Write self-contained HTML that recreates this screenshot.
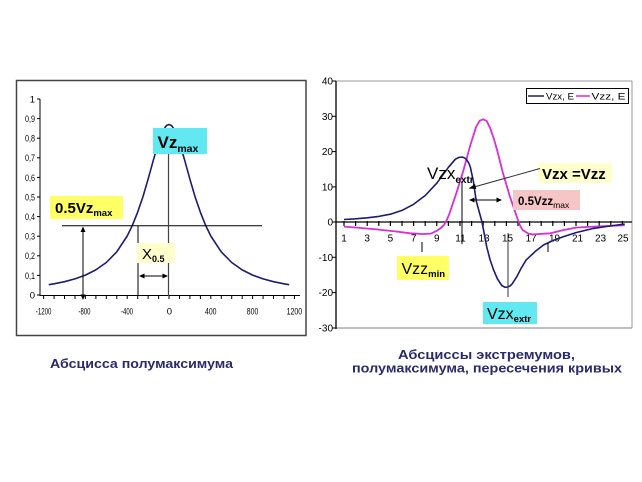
<!DOCTYPE html>
<html><head><meta charset="utf-8"><style>
html,body{margin:0;padding:0;background:#fff;}
svg{display:block;font-family:"Liberation Sans",Arial,sans-serif;}
</style></head><body>
<svg width="642" height="482" viewBox="0 0 642 482" xmlns="http://www.w3.org/2000/svg">
<rect width="642" height="482" fill="#fff"/>

<!-- ================= LEFT CHART ================= -->
<rect x="16.5" y="80.5" width="289.5" height="255" fill="none" stroke="#444" stroke-width="1.5"/>
<line x1="40" y1="99" x2="40" y2="296" stroke="#000" stroke-width="1"/>
<line x1="40" y1="295.5" x2="300" y2="295.5" stroke="#000" stroke-width="1"/>
<g stroke="#000" stroke-width="1">
<line x1="37" y1="99" x2="40" y2="99"/><line x1="37" y1="118.6" x2="40" y2="118.6"/>
<line x1="37" y1="138.2" x2="40" y2="138.2"/><line x1="37" y1="157.8" x2="40" y2="157.8"/>
<line x1="37" y1="177.4" x2="40" y2="177.4"/><line x1="37" y1="197" x2="40" y2="197"/>
<line x1="37" y1="216.6" x2="40" y2="216.6"/><line x1="37" y1="236.2" x2="40" y2="236.2"/>
<line x1="37" y1="255.8" x2="40" y2="255.8"/><line x1="37" y1="275.4" x2="40" y2="275.4"/>
<line x1="37" y1="295" x2="40" y2="295"/>
</g>
<g stroke="#000" stroke-width="1">
<line x1="43.6" y1="295" x2="43.6" y2="299"/><line x1="54.1" y1="295" x2="54.1" y2="299"/>
<line x1="64.5" y1="295" x2="64.5" y2="299"/><line x1="75" y1="295" x2="75" y2="299"/>
<line x1="85.4" y1="295" x2="85.4" y2="299"/><line x1="95.9" y1="295" x2="95.9" y2="299"/>
<line x1="106.3" y1="295" x2="106.3" y2="299"/><line x1="116.8" y1="295" x2="116.8" y2="299"/>
<line x1="127.2" y1="295" x2="127.2" y2="299"/><line x1="137.7" y1="295" x2="137.7" y2="299"/>
<line x1="148.1" y1="295" x2="148.1" y2="299"/><line x1="158.6" y1="295" x2="158.6" y2="299"/>
<line x1="169" y1="295" x2="169" y2="299"/><line x1="179.5" y1="295" x2="179.5" y2="299"/>
<line x1="189.9" y1="295" x2="189.9" y2="299"/><line x1="200.4" y1="295" x2="200.4" y2="299"/>
<line x1="210.8" y1="295" x2="210.8" y2="299"/><line x1="221.3" y1="295" x2="221.3" y2="299"/>
<line x1="231.7" y1="295" x2="231.7" y2="299"/><line x1="242.2" y1="295" x2="242.2" y2="299"/>
<line x1="252.6" y1="295" x2="252.6" y2="299"/><line x1="263.1" y1="295" x2="263.1" y2="299"/>
<line x1="273.5" y1="295" x2="273.5" y2="299"/><line x1="284" y1="295" x2="284" y2="299"/>
<line x1="294.4" y1="295" x2="294.4" y2="299"/>
</g>
<g font-size="9.5" fill="#000" text-anchor="end">
<text x="35" y="102.5">1</text>
<text x="35" y="122" textLength="10" lengthAdjust="spacingAndGlyphs">0,9</text>
<text x="35" y="141.6" textLength="10" lengthAdjust="spacingAndGlyphs">0,8</text>
<text x="35" y="161.2" textLength="10" lengthAdjust="spacingAndGlyphs">0,7</text>
<text x="35" y="180.8" textLength="10" lengthAdjust="spacingAndGlyphs">0,6</text>
<text x="35" y="200.4" textLength="10" lengthAdjust="spacingAndGlyphs">0,5</text>
<text x="35" y="220" textLength="10" lengthAdjust="spacingAndGlyphs">0,4</text>
<text x="35" y="239.6" textLength="10" lengthAdjust="spacingAndGlyphs">0,3</text>
<text x="35" y="259.2" textLength="10" lengthAdjust="spacingAndGlyphs">0,2</text>
<text x="35" y="278.8" textLength="10" lengthAdjust="spacingAndGlyphs">0,1</text>
<text x="35" y="298.4">0</text>
</g>
<g font-size="9.5" fill="#000">
<text x="35.8" y="314.5" textLength="15.6" lengthAdjust="spacingAndGlyphs">-1200</text>
<text x="78.5" y="314.5" textLength="12" lengthAdjust="spacingAndGlyphs">-800</text>
<text x="121" y="314.5" textLength="12" lengthAdjust="spacingAndGlyphs">-400</text>
<text x="166.8" y="314.5">0</text>
<text x="205" y="314.5" textLength="11.5" lengthAdjust="spacingAndGlyphs">400</text>
<text x="246.8" y="314.5" textLength="11.5" lengthAdjust="spacingAndGlyphs">800</text>
<text x="286.6" y="314.5" textLength="15.5" lengthAdjust="spacingAndGlyphs">1200</text>
</g>
<polyline fill="none" stroke="#1c1c70" stroke-width="1.6" stroke-linejoin="round"
points="48.8,284.7 54,283.8 64.5,281.7 74.9,278.9 85.4,275.1 95.8,269.9 106.3,262.5 116.7,251.9 127.2,236 132.4,225.3 137.6,212.3 142.9,196.9 148.1,179.2 153.3,160.3 158.5,142.5 163.8,129.4 166.5,125.5 169,124.5 171.5,125.5 174.2,129.4 179.5,142.5 184.7,160.3 189.9,179.2 195.1,196.9 200.4,212.3 205.6,225.3 210.8,236 221.3,251.9 231.7,262.5 242.2,269.9 252.6,275.1 263.1,278.9 273.5,281.7 284,283.8 289.2,284.7"/>
<line x1="62" y1="225.7" x2="262" y2="225.7" stroke="#000" stroke-width="1"/>
<line x1="168.5" y1="153" x2="168.5" y2="296" stroke="#444" stroke-width="1.2"/>
<line x1="138" y1="226" x2="138" y2="296" stroke="#000" stroke-width="1"/>
<line x1="83" y1="230" x2="83" y2="296" stroke="#000" stroke-width="1"/>
<polygon points="83,226.5 80.5,232 85.5,232" fill="#000"/>
<polygon points="83,300 80.5,294.5 85.5,294.5" fill="#000"/>
<line x1="142" y1="276" x2="165" y2="276" stroke="#000" stroke-width="1"/>
<polygon points="139,276 144.5,273.5 144.5,278.5" fill="#000"/>
<polygon points="168,276 162.5,273.5 162.5,278.5" fill="#000"/>
<rect x="153" y="128" width="54" height="26" fill="#62e8f0"/>
<text x="157.5" y="148" font-size="17" font-weight="bold" fill="#000">Vz<tspan font-size="10.5" dy="4">max</tspan></text>
<rect x="50" y="196" width="73" height="23" fill="#ffff66"/>
<text x="55" y="213" font-size="15" font-weight="bold" fill="#000">0.5Vz<tspan font-size="9.5" dy="3">max</tspan></text>
<rect x="137" y="243" width="38" height="20" fill="#ffffcc"/>
<text x="142" y="259" font-size="15" fill="#000">X<tspan font-size="9" font-weight="bold" dy="3">0.5</tspan></text>

<!-- ================= RIGHT CHART ================= -->
<line x1="336" y1="81" x2="632" y2="81" stroke="#999" stroke-width="1"/>
<line x1="632" y1="81" x2="632" y2="328" stroke="#999" stroke-width="1"/>
<line x1="336" y1="328" x2="632" y2="328" stroke="#999" stroke-width="1.2"/>
<line x1="336" y1="81" x2="336" y2="329" stroke="#000" stroke-width="1.3"/>
<line x1="336" y1="222" x2="632" y2="222" stroke="#000" stroke-width="1.3"/>
<g stroke="#000" stroke-width="1">
<line x1="332" y1="81" x2="336" y2="81"/><line x1="332" y1="116.3" x2="336" y2="116.3"/>
<line x1="332" y1="151.6" x2="336" y2="151.6"/><line x1="332" y1="186.9" x2="336" y2="186.9"/>
<line x1="332" y1="222" x2="336" y2="222"/><line x1="332" y1="257.3" x2="336" y2="257.3"/>
<line x1="332" y1="292.6" x2="336" y2="292.6"/><line x1="332" y1="328" x2="336" y2="328"/>
</g>
<g stroke="#000" stroke-width="1.2">
<line x1="344" y1="221" x2="344" y2="226"/><line x1="355.6" y1="221" x2="355.6" y2="226"/>
<line x1="367.2" y1="221" x2="367.2" y2="226"/><line x1="378.8" y1="221" x2="378.8" y2="226"/>
<line x1="390.4" y1="221" x2="390.4" y2="226"/><line x1="402" y1="221" x2="402" y2="226"/>
<line x1="413.6" y1="221" x2="413.6" y2="226"/><line x1="425.2" y1="221" x2="425.2" y2="226"/>
<line x1="436.8" y1="221" x2="436.8" y2="226"/><line x1="448.4" y1="221" x2="448.4" y2="226"/>
<line x1="460" y1="221" x2="460" y2="226"/><line x1="471.6" y1="221" x2="471.6" y2="226"/>
<line x1="483.2" y1="221" x2="483.2" y2="226"/><line x1="494.8" y1="221" x2="494.8" y2="226"/>
<line x1="506.4" y1="221" x2="506.4" y2="226"/><line x1="518" y1="221" x2="518" y2="226"/>
<line x1="529.6" y1="221" x2="529.6" y2="226"/><line x1="541.2" y1="221" x2="541.2" y2="226"/>
<line x1="552.8" y1="221" x2="552.8" y2="226"/><line x1="564.4" y1="221" x2="564.4" y2="226"/>
<line x1="576" y1="221" x2="576" y2="226"/><line x1="587.6" y1="221" x2="587.6" y2="226"/>
<line x1="599.2" y1="221" x2="599.2" y2="226"/><line x1="610.8" y1="221" x2="610.8" y2="226"/>
<line x1="622.4" y1="221" x2="622.4" y2="226"/>
</g>
<g font-size="10" fill="#000" text-anchor="end">
<text x="333" y="84.5">40</text>
<text x="333" y="119.8">30</text>
<text x="333" y="155.1">20</text>
<text x="333" y="190.4">10</text>
<text x="333" y="225.5">0</text>
<text x="333" y="260.8">-10</text>
<text x="333" y="296.1">-20</text>
<text x="333" y="331.5">-30</text>
</g>
<g font-size="10" fill="#000" text-anchor="middle">
<text x="344" y="241.5">1</text><text x="367.2" y="241.5">3</text>
<text x="390.4" y="241.5">5</text><text x="413.6" y="241.5">7</text>
<text x="436.8" y="241.5">9</text><text x="460.5" y="241.5">11</text>
<text x="484" y="241.5">13</text><text x="507.5" y="241.5">15</text>
<text x="531" y="241.5">17</text><text x="554.5" y="241.5">19</text>
<text x="577.5" y="241.5">21</text><text x="600.5" y="241.5">23</text>
<text x="623" y="241.5">25</text>
</g>
<polyline fill="none" stroke="#d630d6" stroke-width="1.8" stroke-linejoin="round"
points="344,226.6 361.4,228 376.5,229.4 396.2,231.5 410.1,233.3 422.9,234 431,233.6 436.8,230.8 440.5,228.3 443.8,225.2 446.8,220 449.6,213.2 453,203 456.5,192.7 463.5,170.1 470.4,145 476.2,126.7 479.7,120.7 483.2,119.3 486.7,121 490.2,128.1 493.6,138 497.1,150 502.9,172.9 509.9,196.6 516.8,216.7 519.8,225 522.6,230.1 528.4,233.6 533,234.4 550.5,233.3 563.2,230.1 576,227.6 593.4,226.6 624.7,225.2"/>
<polyline fill="none" stroke="#1c1c70" stroke-width="1.6" stroke-linejoin="round"
points="344,219.5 355.6,218.8 367.2,217.8 378.8,216.4 390.4,214.2 402,210.4 413.6,204.3 425.2,195.5 436.8,183.2 448.4,167.3 455.4,159.2 459,157.4 462.3,157 465,158.2 467,160.2 469,163.5 470.4,167.3 473.5,182 476.2,200.8 482,222 486.7,246.7 490,259.5 493.6,270 497.5,279 501.8,285.5 505,287.3 507.6,287 510,286 512.2,283.8 516.8,276.7 521,268.5 526.1,260.1 535.4,251.3 543.5,245 553,240.5 563.2,236.8 576,232.6 593.4,228.4 610,226 624.7,224.1"/>
<rect x="526.5" y="88.5" width="102" height="15" fill="#fff" stroke="#000" stroke-width="1"/>
<line x1="528" y1="96" x2="544" y2="96" stroke="#1c1c70" stroke-width="1.5"/>
<text x="546" y="99.5" font-size="9" fill="#000" textLength="28" lengthAdjust="spacingAndGlyphs">Vzx, E</text>
<line x1="576" y1="96" x2="590" y2="96" stroke="#d630d6" stroke-width="1.5"/>
<text x="591.5" y="99.5" font-size="9" fill="#000" textLength="34" lengthAdjust="spacingAndGlyphs">Vzz, E</text>
<text x="427" y="179" font-size="17" fill="#000">Vzx<tspan font-size="10" font-weight="bold" dy="4">extr</tspan></text>
<line x1="462" y1="181" x2="462" y2="244" stroke="#000" stroke-width="1"/>
<rect x="538" y="163" width="74" height="20" fill="#ffffcc"/>
<text x="542" y="179" font-size="15" font-weight="bold" fill="#000">Vzx =Vzz</text>
<line x1="540" y1="168.5" x2="474" y2="187" stroke="#333" stroke-width="1"/>
<polygon points="468.5,188.5 475,184 476.3,189" fill="#000"/>
<line x1="473" y1="200" x2="498" y2="200" stroke="#000" stroke-width="1"/>
<polygon points="469,200 474.5,197.5 474.5,202.5" fill="#000"/>
<polygon points="502,200 496.5,197.5 496.5,202.5" fill="#000"/>
<rect x="513" y="190" width="67" height="20" fill="#f6c6c6"/>
<text x="518" y="205" font-size="11.5" font-weight="bold" fill="#000">0.5Vzz<tspan font-size="8.5" font-weight="normal" dy="3">max</tspan></text>
<line x1="422" y1="242" x2="422" y2="252" stroke="#000" stroke-width="1"/>
<line x1="548" y1="243" x2="548" y2="252" stroke="#000" stroke-width="1"/>
<rect x="397" y="256" width="52" height="24" fill="#ffff66"/>
<text x="401.5" y="274" font-size="16" fill="#000">Vzz<tspan font-size="9.5" font-weight="bold" dy="3">min</tspan></text>
<line x1="508" y1="233" x2="508" y2="297" stroke="#333" stroke-width="1"/>
<rect x="483" y="302" width="54" height="22" fill="#62e8f0"/>
<text x="487" y="319" font-size="16" fill="#000">Vzx<tspan font-size="9.5" font-weight="bold" dy="3">extr</tspan></text>

<text x="50" y="368" font-size="13" font-weight="bold" fill="#2b2a6b" textLength="183" lengthAdjust="spacingAndGlyphs">Абсцисса полумаксимума</text>
<text x="398" y="359" font-size="13" font-weight="bold" fill="#2b2a6b" textLength="177" lengthAdjust="spacingAndGlyphs">Абсциссы экстремумов,</text>
<text x="352" y="372.5" font-size="13" font-weight="bold" fill="#2b2a6b" textLength="270" lengthAdjust="spacingAndGlyphs">полумаксимума, пересечения кривых</text>
</svg>
</body></html>
